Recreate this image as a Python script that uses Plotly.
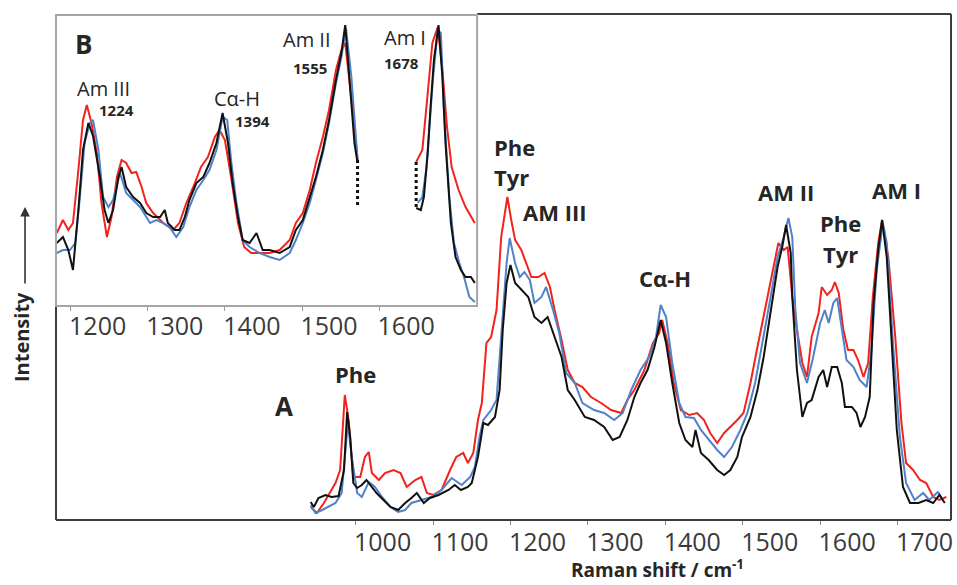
import plotly.graph_objects as go

# ---------------- Main spectrum (A) ----------------
# wavenumber (cm-1) and intensity (a.u.)
main_black_x = [942, 946, 952, 961, 969, 978, 985, 989, 993, 997, 1002, 1008, 1014, 1019, 1027, 1036, 1045, 1055,
                1064, 1072, 1079, 1088, 1096, 1107, 1120, 1128, 1136, 1145, 1150, 1158, 1165, 1171, 1180, 1186,
                1190, 1195, 1200, 1206, 1214, 1223, 1231, 1240, 1248, 1257, 1266, 1274, 1283, 1296, 1308, 1321,
                1332, 1341, 1351, 1360, 1368, 1377, 1386, 1394, 1401, 1409, 1418, 1426, 1435, 1439, 1446, 1456,
                1467, 1476, 1484, 1493, 1499, 1510, 1519, 1527, 1536, 1545, 1551, 1556, 1562, 1564, 1570, 1577,
                1583, 1589, 1598, 1604, 1609, 1615, 1622, 1628, 1632, 1641, 1647, 1652, 1658, 1664, 1669, 1675,
                1680, 1686, 1692, 1699, 1707, 1716, 1727, 1737, 1746, 1754, 1761]
main_black_y = [18, 13, 22, 25, 23, 24, 50, 108, 83, 37, 32, 35, 40, 35, 27, 20, 13, 10,
                17, 22, 27, 17, 22, 25, 30, 35, 30, 33, 37, 63, 97, 95, 103, 130,
                190, 237, 255, 237, 230, 223, 203, 197, 203, 183, 163, 130, 120, 103, 100, 93,
                80, 83, 100, 123, 137, 150, 173, 200, 177, 137, 97, 80, 73, 90, 67, 60,
                50, 45, 50, 63, 83, 103, 130, 163, 210, 253, 273, 295, 267, 223, 150, 103,
                117, 120, 143, 150, 133, 153, 153, 137, 113, 113, 107, 93, 103, 123, 217, 270,
                300, 263, 183, 90, 33, 17, 17, 20, 17, 25, 17]

main_blue_x = [942, 948, 957, 965, 974, 982, 987, 990, 995, 1002, 1008, 1017, 1025, 1034, 1045, 1055, 1064, 1072,
               1085, 1098, 1111, 1124, 1137, 1148, 1154, 1160, 1165, 1175, 1182, 1188, 1195, 1199, 1206, 1212,
               1218, 1225, 1231, 1240, 1246, 1255, 1263, 1272, 1283, 1293, 1308, 1321, 1334, 1345, 1356, 1362,
               1368, 1379, 1388, 1394, 1401, 1409, 1418, 1426, 1437, 1446, 1456, 1467, 1476, 1486, 1497, 1506,
               1516, 1527, 1536, 1545, 1553, 1559, 1564, 1568, 1574, 1583, 1591, 1600, 1606, 1611, 1617, 1622,
               1628, 1634, 1643, 1651, 1660, 1666, 1673, 1681, 1686, 1694, 1703, 1711, 1722, 1733, 1741, 1752, 1759]
main_blue_y = [15, 7, 10, 13, 17, 27, 67, 97, 63, 27, 23, 38, 33, 23, 13, 8, 10, 17,
               20, 23, 30, 42, 35, 43, 53, 83, 100, 110, 120, 183, 257, 282, 257, 243,
               248, 240, 217, 223, 233, 210, 187, 147, 137, 117, 110, 107, 100, 107, 130, 140,
               150, 163, 183, 215, 203, 157, 117, 103, 102, 90, 80, 70, 63, 73, 90, 107,
               137, 183, 223, 263, 283, 302, 283, 210, 157, 137, 163, 197, 210, 197, 217, 222,
               190, 160, 153, 140, 133, 167, 250, 297, 277, 177, 83, 37, 20, 27, 20, 28, 20]

main_red_x = [942, 950, 959, 967, 974, 980, 986, 991, 997, 1006, 1012, 1017, 1021, 1030, 1038, 1049, 1058, 1066,
              1077, 1085, 1092, 1100, 1111, 1122, 1130, 1139, 1145, 1152, 1158, 1163, 1169, 1175, 1182, 1188,
              1196, 1201, 1206, 1214, 1220, 1227, 1236, 1244, 1251, 1257, 1266, 1274, 1283, 1293, 1304, 1317,
              1330, 1343, 1351, 1360, 1373, 1384, 1392, 1396, 1403, 1411, 1420, 1431, 1441, 1450, 1458, 1467,
              1476, 1484, 1493, 1501, 1510, 1519, 1527, 1536, 1546, 1553, 1558, 1564, 1568, 1577, 1583, 1589,
              1598, 1602, 1609, 1615, 1619, 1624, 1630, 1636, 1643, 1649, 1656, 1662, 1668, 1675, 1680, 1688,
              1697, 1705, 1711, 1720, 1729, 1737, 1746, 1754, 1763]
main_red_y = [13, 7, 17, 27, 37, 50, 125, 100, 43, 43, 63, 68, 47, 40, 47, 50, 47, 33,
              40, 43, 27, 25, 30, 50, 63, 67, 57, 67, 100, 117, 177, 183, 210, 283,
              323, 300, 280, 270, 257, 243, 243, 247, 233, 210, 180, 150, 137, 133, 123, 117,
              110, 107, 120, 130, 150, 177, 187, 200, 177, 137, 110, 105, 107, 100, 87, 77,
              87, 93, 100, 107, 137, 173, 203, 240, 277, 270, 273, 223, 200, 157, 143, 183,
              207, 233, 225, 230, 238, 227, 190, 170, 170, 160, 143, 157, 223, 277, 300, 263,
              183, 97, 57, 50, 40, 37, 23, 20, 23]

main_ticks = [1000, 1100, 1200, 1300, 1400, 1500, 1600, 1700]

# ---------------- Inset (B) ----------------
ins_black_x = [1182, 1190, 1197, 1203, 1210, 1216, 1223, 1229, 1238, 1244, 1249, 1255, 1262, 1266, 1272, 1281,
               1290, 1298, 1307, 1316, 1322, 1326, 1335, 1341, 1348, 1354, 1363, 1372, 1380, 1389, 1397, 1404,
               1410, 1417, 1423, 1432, 1441, 1449, 1458, 1471, 1484, 1492, 1501, 1510, 1518, 1527, 1535, 1544,
               1551, 1556, 1561, 1568, 1572, None,
               1648, 1654, 1658, 1663, 1667, 1671, 1677, 1682, 1686, 1693, 1699, 1706, 1712, 1719, 1724]
ins_black_y = [63, 69, 56, 36, 96, 156, 183, 170, 129, 96, 83, 96, 129, 139, 119, 109,
               103, 93, 89, 89, 96, 83, 76, 76, 89, 106, 123, 129, 143, 163, 193, 163,
               123, 89, 66, 63, 73, 56, 56, 53, 59, 76, 86, 109, 129, 156, 186, 226,
               253, 281, 229, 163, 143, None,
               98, 96, 109, 153, 203, 246, 281, 229, 163, 83, 49, 36, 29, 29, 23]

ins_blue_x = [1182, 1190, 1199, 1206, 1212, 1218, 1225, 1229, 1236, 1242, 1249, 1255, 1264, 1272, 1281, 1290,
              1303, 1311, 1320, 1328, 1337, 1346, 1354, 1363, 1372, 1380, 1389, 1397, 1403, 1408, 1415, 1423,
              1432, 1445, 1458, 1471, 1484, 1492, 1501, 1510, 1518, 1527, 1535, 1544, 1551, 1557, 1564, 1570,
              1572, None,
              1650, 1656, 1661, 1665, 1670, 1676, 1680, 1684, 1691, 1697, 1704, 1710, 1717, 1724]
ins_blue_y = [53, 56, 56, 63, 109, 163, 183, 186, 156, 109, 99, 106, 133, 113, 106, 99,
              83, 86, 83, 79, 69, 79, 99, 116, 126, 136, 156, 189, 186, 146, 103, 66,
              59, 53, 49, 46, 53, 66, 83, 103, 126, 153, 183, 223, 249, 278, 229, 163,
              146, None,
              103, 109, 136, 179, 229, 276, 273, 196, 109, 63, 43, 29, 9, 4]

ins_red_x = [1182, 1190, 1197, 1203, 1210, 1216, 1221, 1227, 1234, 1240, 1247, 1253, 1260, 1266, 1272, 1279,
             1285, 1292, 1298, 1307, 1320, 1333, 1341, 1350, 1359, 1369, 1378, 1387, 1393, 1400, 1408, 1417,
             1425, 1434, 1445, 1458, 1471, 1484, 1492, 1501, 1510, 1518, 1527, 1535, 1544, 1551, 1556, 1561,
             1568, 1572, None,
             1648, 1656, 1663, 1669, 1676, 1682, 1688, 1694, 1703, 1712, 1724]
ins_red_y = [73, 86, 76, 83, 136, 186, 201, 183, 153, 103, 69, 89, 129, 146, 143, 133,
             134, 119, 103, 93, 83, 76, 83, 103, 119, 139, 149, 169, 176, 166, 129, 83,
             59, 53, 53, 53, 56, 66, 83, 93, 116, 143, 169, 196, 236, 256, 263, 229,
             179, 146, None,
             144, 156, 213, 263, 279, 236, 179, 139, 116, 99, 83]

# dotted cut markers at the edges of the removed Phe/Tyr window
cut_left_x = [1572, 1572]
cut_left_y = [146, 101]
cut_right_x = [1648, 1648]
cut_right_y = [144, 98]

ins_ticks = [1200, 1300, 1400, 1500, 1600]

RED = "#f2231d"
BLUE = "#4f82c9"
BLACK = "#111111"

fig = go.Figure()

for xs, ys, col in [(main_red_x, main_red_y, RED), (main_blue_x, main_blue_y, BLUE),
                    (main_black_x, main_black_y, BLACK)]:
    fig.add_trace(go.Scatter(x=xs, y=ys, mode="lines", line=dict(color=col, width=2),
                             xaxis="x", yaxis="y", showlegend=False, hoverinfo="skip"))

for xs, ys, col in [(ins_red_x, ins_red_y, RED), (ins_blue_x, ins_blue_y, BLUE),
                    (ins_black_x, ins_black_y, BLACK)]:
    fig.add_trace(go.Scatter(x=xs, y=ys, mode="lines", line=dict(color=col, width=2),
                             connectgaps=False, xaxis="x2", yaxis="y2", showlegend=False,
                             hoverinfo="skip"))

for xs, ys in [(cut_left_x, cut_left_y), (cut_right_x, cut_right_y)]:
    fig.add_trace(go.Scatter(x=xs, y=ys, mode="lines", line=dict(color=BLACK, width=3, dash="dot"),
                             xaxis="x2", yaxis="y2", showlegend=False, hoverinfo="skip"))

TICKFONT = dict(family="Open Sans, DejaVu Sans, sans-serif", size=25, color="#3a3a3a")
LBL = "Open Sans, DejaVu Sans, sans-serif"

INSET_R = 0.4705
INSET_B = 0.4229
INSET_T = 0.998

fig.update_layout(
    width=957, height=585, autosize=False,
    margin=dict(l=56, r=4, t=14, b=65),
    paper_bgcolor="white", plot_bgcolor="white",
    xaxis=dict(range=[613, 1769], tickvals=main_ticks, ticks="outside", ticklen=4,
               tickcolor="#888888", tickfont=TICKFONT, ticklabelshift=27, ticklabelstandoff=-4,
               ticklabeloverflow="allow",
               showgrid=False, zeroline=False, showline=False, domain=[0, 1], anchor="y"),
    yaxis=dict(range=[0, 506], visible=False, domain=[0, 1], anchor="x"),
    xaxis2=dict(range=[1181, 1727], tickvals=ins_ticks, ticks="outside", ticklen=4,
                tickcolor="#999999", tickfont=TICKFONT, ticklabelshift=27, ticklabelstandoff=-6,
                ticklabeloverflow="allow",
                showgrid=False, zeroline=False, showline=False, domain=[0, INSET_R], anchor="y2"),
    yaxis2=dict(range=[0, 291], visible=False, domain=[INSET_B, INSET_T], anchor="x2"),
)

# frames
shapes = [
    dict(type="line", xref="paper", yref="paper", x0=0, x1=1, y0=0, y1=0, line=dict(color="#3c3c3c", width=2)),
    dict(type="line", xref="paper", yref="paper", x0=0, x1=0, y0=0, y1=INSET_B, line=dict(color="#3c3c3c", width=2)),
    dict(type="line", xref="paper", yref="paper", x0=1, x1=1, y0=0, y1=1, line=dict(color="#3c3c3c", width=2)),
    dict(type="line", xref="paper", yref="paper", x0=INSET_R, x1=1, y0=1, y1=1, line=dict(color="#3c3c3c", width=2)),
    dict(type="rect", xref="paper", yref="paper", x0=0, x1=INSET_R, y0=INSET_B, y1=INSET_T,
         line=dict(color="#a6a6a6", width=2), fillcolor="rgba(0,0,0,0)"),
]
fig.update_layout(shapes=shapes)

ann = []
def main_lbl(text, x, y, size=22, xanchor="center"):
    ann.append(dict(text="<b>%s</b>" % text, x=x, y=y, xref="x", yref="y", showarrow=False,
                    xanchor=xanchor, yanchor="middle", font=dict(family=LBL, size=size, color="#262626")))

main_lbl("Phe", 1000, 146)
main_lbl("Phe", 1176, 373, xanchor="left")
main_lbl("Tyr", 1176, 343, xanchor="left")
main_lbl("AM III", 1257, 308)
main_lbl("Cα-H", 1400, 242)
main_lbl("AM II", 1556, 328)
main_lbl("Phe", 1626, 297)
main_lbl("Tyr", 1626, 266)
main_lbl("AM I", 1698, 330)
main_lbl("A", 908, 114, size=26)

def ins_lbl(text, x, y, size=20, bold=False):
    t = "<b>%s</b>" % text if bold else text
    ann.append(dict(text=t, x=x, y=y, xref="x2", yref="y2", showarrow=False,
                    xanchor="center", yanchor="middle", font=dict(family=LBL, size=size, color="#262626")))

ins_lbl("B", 1217, 262, size=26, bold=True)
ins_lbl("Am III", 1242, 218)
ins_lbl("1224", 1260, 196, size=15, bold=True)
ins_lbl("Cα-H", 1416, 208)
ins_lbl("1394", 1436, 185, size=15, bold=True)
ins_lbl("Am II", 1507, 267)
ins_lbl("1555", 1510, 238, size=15, bold=True)
ins_lbl("Am I", 1634, 269)
ins_lbl("1678", 1629, 243, size=15, bold=True)

# axis titles
ann.append(dict(text="<b>Raman shift / cm<sup>-1</sup></b>", x=0.672, y=-0.0968, xref="paper", yref="paper",
                showarrow=False, xanchor="center", yanchor="middle",
                font=dict(family=LBL, size=19, color="#262626")))
ann.append(dict(text="<b>Intensity</b>", x=-0.0379, y=0.3617, xref="paper", yref="paper",
                showarrow=False, textangle=-90, xanchor="center", yanchor="middle",
                font=dict(family=LBL, size=20, color="#262626")))
ann.append(dict(text="", x=-0.0346, y=0.6186, xref="paper", yref="paper", showarrow=True,
                ax=0, ay=78, arrowhead=2, arrowsize=1.2, arrowwidth=1.6, arrowcolor="#333333"))

fig.update_layout(annotations=ann)

fig.write_html("out.html", config={"displayModeBar": False},
               post_script="document.body.style.margin='0';document.body.style.padding='0';"
                           "document.documentElement.style.overflow='hidden';")
